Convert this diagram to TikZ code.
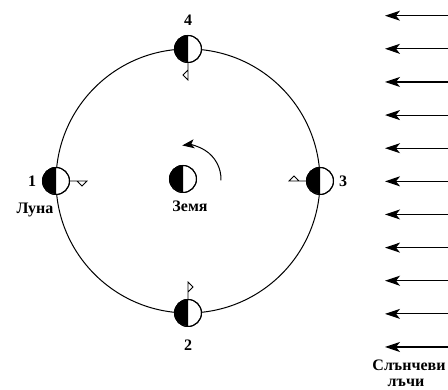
\documentclass[tikz,border=0pt]{standalone}
\usepackage{fontspec}
\setmainfont{Liberation Serif}
\usetikzlibrary{arrows.meta}
\tikzstyle{orbit}=[draw,line width=1pt]
\tikzstyle{body}=[circle,draw,line width=1pt,fill=white,minimum size=27pt,inner sep=0pt]
\tikzstyle{flag}=[draw,line width=0.8pt,line join=miter]
\tikzstyle{ray}=[draw,line width=1.1pt,-{Stealth[length=15pt,width=10pt,inset=4pt]}]
\tikzstyle{turn}=[draw,line width=1pt,-{Stealth[length=12pt,width=9pt,inset=3pt]}]
\tikzstyle{bold text}=[font=\bfseries\fontsize{16}{18}\selectfont,inner sep=0pt]

\begin{document}
\begin{tikzpicture}[x=1pt,y=1pt]
        \useasboundingbox (0,0) rectangle (448,390);
        % orbit and the four positions of the moon
        \coordinate (o) at (188,209);
        \draw[orbit] (o) circle (132);
        \node[body] (m1) at (56,209) {};
        \node[body] (m2) at (188,77) {};
        \node[body] (m3) at (320,209) {};
        \node[body] (m4) at (188,341) {};
        \node[body] (earth) at (183,211) {};
        % dark halves, away from the sun
        \foreach \m in {m1,m2,m3,m4,earth}{
            \fill (\m.north) arc[start angle=90,end angle=270,radius=13.5] -- cycle;
            \draw[line width=1pt] (\m) circle (13.5);
        }
        % marker on the side facing the earth
        \foreach \m/\a in {m1/0,m2/90,m3/180,m4/270}{
            \draw[flag] (\m.\a) -- ++(\a:17) -- ++(\a+225:7.07) -- ++(\a+135:7.07);
        }
        % rotation of the earth
        \draw[turn] ([shift={(-2:38)}]earth.center) arc[start angle=-2,end angle=98,radius=34];
        % sun rays
        \foreach \i in {0,1,...,10}{
            \coordinate (s\i) at (452,{374.3-33.13*\i});
            \coordinate (t\i) at (385,{374.3-33.13*\i});
            \path[ray] (s\i) -- (t\i);
        }
        \node[bold text] (n1) at (32,209) {1};
        \node[bold text] (n2) at (188,45) {2};
        \node[bold text] (n3) at (343,209) {3};
        \node[bold text] (n4) at (188,370) {4};
        \node[bold text] (moon) at (35,180) {Луна};
        \node[bold text] (earthname) at (190,184) {Земя};
        \node[bold text] (rays1) at (409,25) {Слънчеви};
        \node[bold text] (rays2) at (406,7) {лъчи};
    \end{tikzpicture}
\end{document}
